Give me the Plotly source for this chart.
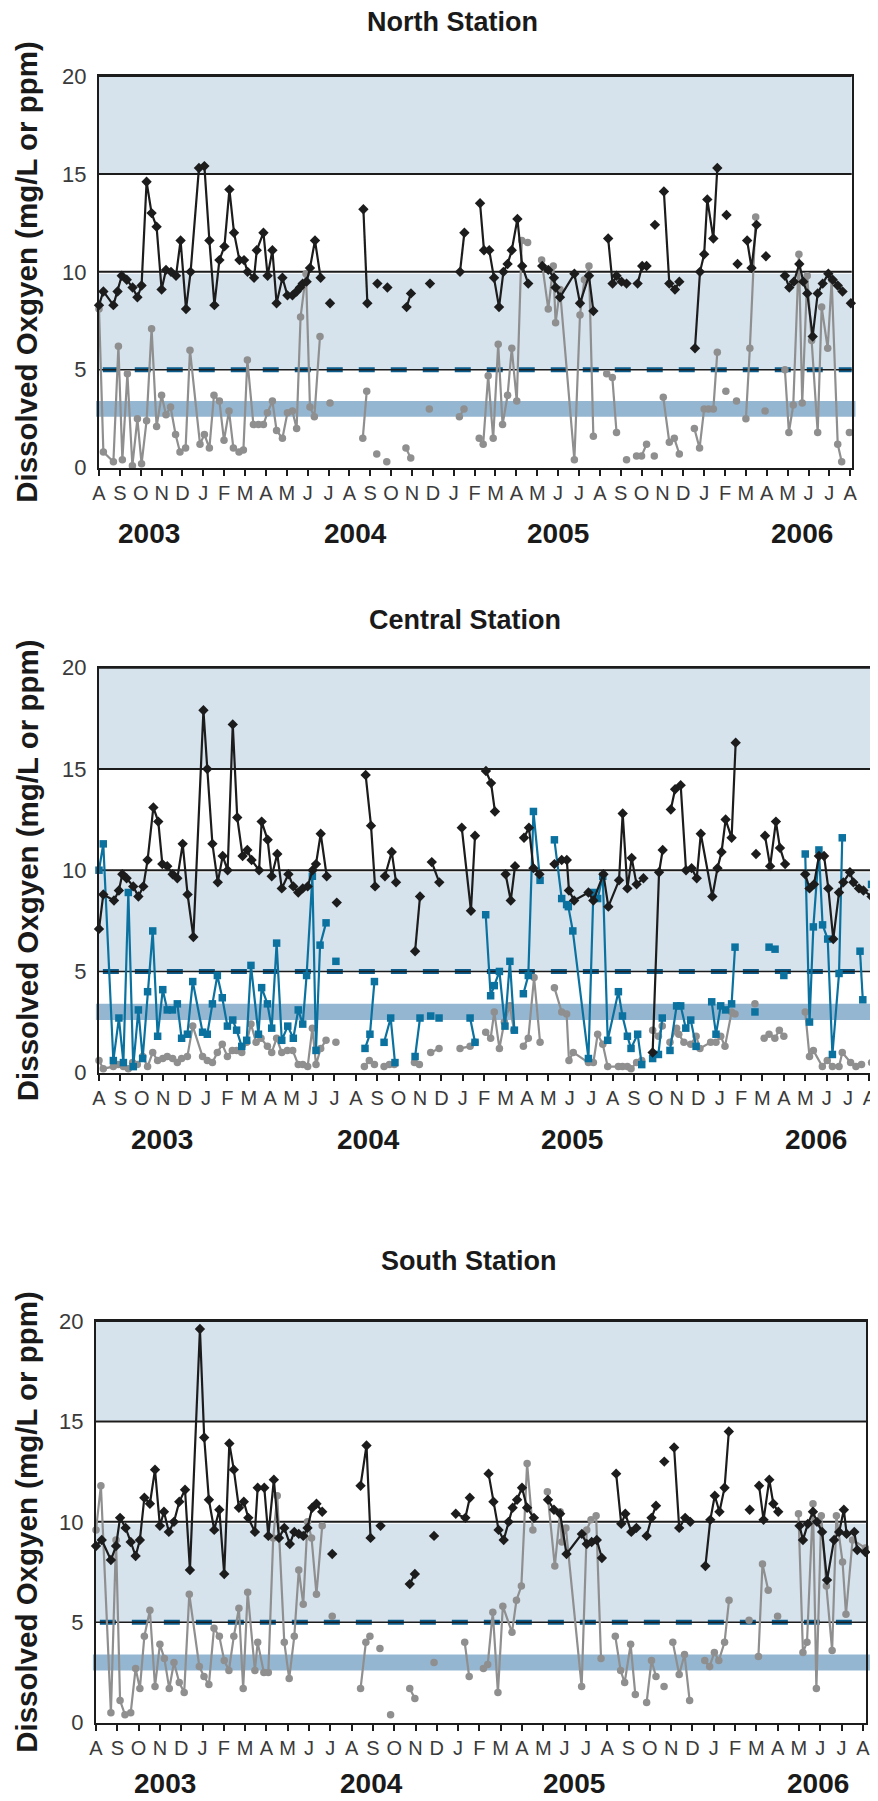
import plotly.graph_objects as go

# x values are month positions on the axis: 0 = Aug 2003, 36 = Aug 2006
# None marks a break in the line (no sampling)
MONTH_LABELS = list("ASONDJFMAMJJ") * 3 + ["A"]
YEARS = ["2003", "2004", "2005", "2006"]
Y_TICKS = [0, 5, 10, 15, 20]

# ---------------- North Station ----------------
north_black_x = [0, 0.21, 0.69, 0.89, 1.09, 1.33, 1.61, 1.84, 2.04, 2.28, 2.52, 2.76, 3.00, 3.21, 3.45, 3.69,
                 3.91, 4.17, 4.39, 4.79, 5.05, 5.29, 5.53, 5.77, 6.01, 6.25, 6.47, 6.73, 6.95, 7.12, 7.43, 7.56,
                 7.88, 8.08, 8.31, 8.51, 8.79, 9.03, 9.27, 9.47, 9.63, 9.76, 9.95, 10.11, 10.35, 10.62, None,
                 11.07, None, 12.67, 12.86, None, 13.34, None, 13.82, None, 14.74, 14.95, None, 15.86, None,
                 17.30, 17.51, None,
                 18.26, 18.45, 18.70, 18.93, 19.17, 19.38, 19.58, 19.78, 20.05, 20.28, 20.57, None,
                 21.24, 21.53, 21.80, 21.88, 22.09, 22.78, 23.05, 23.48, 23.69, None,
                 24.40, 24.61, 24.80, 25.04, 25.28, None, 25.81, 26.03, 26.24, None, 26.64, None,
                 27.07, 27.33, 27.60, 27.81, None, 28.56, 28.80, 29.00, 29.15, 29.44, 29.63, None,
                 30.07, None, 30.60, None, 31.06, 31.27, 31.51, None, 31.96, None,
                 32.87, 33.08, 33.30, 33.56, 33.75, 33.94, 34.20, 34.44, 34.68, 34.95, 35.16, 35.40, 35.63, None,
                 36.03]
north_black_y = [8.3, 9.0, 8.3, 9.0, 9.8, 9.6, 9.2, 8.7, 9.3, 14.6, 13.0, 12.3, 9.1, 10.1, 10.0, 9.8,
                 11.6, 8.1, 10.0, 15.3, 15.4, 11.6, 8.3, 10.6, 11.3, 14.2, 12.0, 10.6, 10.6, 10.0, 9.7, 11.1,
                 12.0, 9.8, 11.1, 8.4, 9.7, 8.8, 8.8, 9.0, 9.2, 9.4, 9.5, 10.2, 11.6, 9.7, None,
                 8.4, None, 13.2, 8.4, None, 9.4, None, 9.2, None, 8.2, 8.9, None, 9.4, None,
                 10.0, 12.0, None,
                 13.5, 11.1, 11.1, 9.7, 8.2, 10.0, 10.4, 11.1, 12.7, 10.3, 9.4, None,
                 10.3, 10.1, 9.7, 9.2, 8.7, 9.9, 8.4, 9.8, 8.0, None,
                 11.7, 9.4, 9.8, 9.5, 9.4, None, 9.4, 10.3, 10.3, None, 12.4, None,
                 14.1, 9.4, 9.1, 9.5, None, 6.1, 10.0, 10.9, 13.7, 11.7, 15.3, None,
                 12.9, None, 10.4, None, 11.6, 10.2, 12.4, None, 10.8, None,
                 9.8, 9.2, 9.5, 10.4, 9.5, 8.9, 6.7, 8.9, 9.4, 9.9, 9.6, 9.3, 9.0, None,
                 8.4]

north_grey_x = [0, 0.21, 0.69, 0.93, 1.12, 1.36, 1.60, 1.84, 2.04, 2.28, 2.52, 2.76, 3.00, 3.21, 3.43, 3.67,
                3.88, 4.15, 4.36, 4.84, 5.05, 5.29, 5.51, 5.77, 5.99, 6.23, 6.44, 6.71, 6.92, 7.11, 7.40, 7.64,
                7.88, 8.07, 8.31, 8.51, 8.79, 9.03, 9.27, 9.47, 9.66, 9.92, 10.11, 10.32, 10.59, None,
                11.07, None, 12.64, 12.83, None, 13.31, None, 13.79, None, 14.71, 14.94, None, 15.83, None,
                17.27, 17.49, None,
                18.22, 18.41, 18.65, 18.89, 19.13, 19.34, 19.58, 19.78, 20.02, 20.26, 20.54, None,
                21.21, 21.53, 21.77, 21.88, 22.09, 22.78, 23.05, 23.26, 23.48, 23.69, None,
                24.33, 24.60, 24.80, None, 25.28, None, 25.76, 26.00, 26.24, None, 26.61, None,
                27.04, 27.33, 27.57, 27.81, None, 28.53, 28.78, 29.00, 29.21, 29.44, 29.63, None,
                30.04, None, 30.55, None, 31.00, 31.19, 31.47, None, 31.92, None,
                32.87, 33.06, 33.27, 33.54, 33.70, 33.94, 34.15, 34.44, 34.63, 34.92, 35.11, 35.40, 35.59, None,
                35.96]
north_grey_y = [8.1, 0.8, 0.3, 6.2, 0.4, 4.8, 0.1, 2.5, 0.2, 2.4, 7.1, 2.1, 3.7, 2.7, 3.1, 1.7,
                0.8, 1.0, 6.0, 1.2, 1.7, 1.0, 3.7, 3.4, 1.4, 2.9, 1.0, 0.8, 0.9, 5.5, 2.2, 2.2,
                2.2, 2.8, 3.4, 1.9, 1.5, 2.8, 2.9, 2.0, 7.7, 9.9, 3.1, 2.6, 6.7, None,
                3.3, None, 1.5, 3.9, None, 0.7, None, 0.3, None, 1.0, 0.5, None, 3.0, None,
                2.6, 3.0, None,
                1.5, 1.2, 4.7, 1.5, 6.3, 2.2, 3.7, 6.1, 3.4, 11.6, 11.5, None,
                10.6, 8.1, 10.3, 7.4, 9.1, 0.4, 7.8, 9.6, 10.3, 1.6, None,
                4.8, 4.6, 1.8, None, 0.4, None, 0.6, 0.6, 1.2, None, 0.6, None,
                3.6, 1.3, 1.5, 0.7, None, 2.0, 1.0, 3.0, 3.0, 3.0, 5.9, None,
                3.9, None, 3.4, None, 2.5, 6.1, 12.8, None, 2.9, None,
                5.0, 1.8, 3.2, 10.9, 3.3, 9.8, 6.5, 1.8, 8.2, 6.1, 9.6, 1.2, 0.3, None,
                1.8]

# ---------------- Central Station ----------------
central_black_x = [0, 0.20, 0.70, 0.93, 1.09, 1.29, 1.60, 1.84, 2.07, 2.27, 2.54, 2.77, 2.96, 3.19, 3.44, 3.66,
                   3.91, 4.14, 4.41, 4.88, 5.06, 5.30, 5.55, 5.78, 6.01, 6.25, 6.46, 6.71, 6.93, 7.13, 7.48, 7.60,
                   7.88, 8.07, 8.33, 8.54, 8.85, 9.08, 9.31, 9.52, 9.75, 9.98, 10.14, 10.36, 10.64, None,
                   11.11, None, 12.46, 12.71, 12.90, None, 13.36, 13.68, 13.88, None, 14.77, 15.00, None,
                   15.55, 15.90, None, 16.95, 17.38, 17.57, None,
                   18.08, 18.32, 18.50, None, 19.00, 19.24, 19.44, None, 19.86, 20.09, 20.30, 20.58, None,
                   21.28, 21.62, 21.86, 21.96, 22.20, 22.87, 23.10, 23.57, 23.80, 24.30, 24.47, 24.69, 24.89,
                   25.12, 25.44, None, 25.87, 26.17, 26.34, None,
                   26.72, 26.92, 27.18, 27.43, 27.69, 27.93, 28.12, 28.66, 28.90, 29.09, 29.28, 29.56, 29.75, None,
                   30.70, None, 31.12, 31.36, 31.63, 31.82, 32.06, None,
                   33.00, 33.20, 33.41, 33.64, 33.88, 34.08, 34.31, 34.58, 34.78, 35.09, 35.25, 35.51, 35.72, 36.10]
central_black_y = [7.1, 8.8, 8.5, 9.0, 9.8, 9.6, 9.2, 8.7, 9.2, 10.5, 13.1, 12.4, 10.3, 10.2, 9.8, 9.6,
                   11.3, 8.8, 6.7, 17.9, 15.0, 11.3, 9.4, 10.7, 10.0, 17.2, 12.6, 10.7, 11.0, 10.5, 10.0, 12.4,
                   11.5, 9.7, 10.8, 9.1, 9.8, 9.2, 8.9, 9.1, 9.2, 10.0, 10.3, 11.8, 9.7, None,
                   8.4, None, 14.7, 12.2, 9.2, None, 9.7, 10.9, 9.4, None, 6.0, 8.7, None,
                   10.4, 9.4, None, 12.1, 8.0, 11.7, None,
                   14.9, 14.3, 12.9, None, 9.8, 8.5, 10.2, None, 11.6, 12.1, 10.1, 9.8, None,
                   10.3, 10.5, 10.5, 9.0, 8.5, 8.9, 8.5, 9.8, 8.2, 9.5, 12.8, 9.1, 10.6,
                   9.3, 9.6, None, 1.0, 9.9, 11.0, None,
                   13.0, 14.0, 14.2, 10.0, 10.1, 9.6, 11.8, 8.7, 10.1, 10.9, 12.5, 11.6, 16.3, None,
                   10.8, None, 11.7, 10.2, 12.4, 11.1, 10.3, None,
                   9.8, 9.1, 9.3, 10.7, 10.7, 9.1, 6.6, 8.9, 9.4, 9.9, 9.4, 9.1, 9.0, 8.7]

central_teal_x = [0, 0.20, 0.67, 0.93, 1.14, 1.37, 1.60, 1.84, 2.04, 2.27, 2.51, 2.74, 2.98, 3.19, 3.43, 3.66,
                  3.86, 4.13, 4.38, 4.84, 5.06, 5.30, 5.53, 5.76, 6.00, 6.25, 6.43, 6.67, 6.90, 7.10, 7.45, 7.60,
                  7.87, 8.07, 8.30, 8.54, 8.82, 9.08, 9.31, 9.52, 9.70, 9.97, 10.14, 10.33, 10.61, None,
                  11.07, None, 12.43, 12.66, 12.87, None, 13.32, 13.63, 13.83, None, 14.77, 15.00, None,
                  15.50, None, 15.89, None, 17.34, 17.57, None,
                  18.07, 18.30, 18.47, 18.71, 18.97, 19.20, 19.41, None, 19.83, 20.06, 20.30, 20.61, None,
                  21.28, 21.62, 21.85, 21.93, 22.14, 22.87, 23.10, 23.30, 23.54, 23.77, 24.27, 24.46, 24.69,
                  24.86, 25.17, 25.36, None, 25.87, 26.14, 26.32, None,
                  26.68, 26.99, 27.18, 27.42, 27.65, 27.90, None, 28.63, 28.83, 29.05, 29.28, 29.56, 29.72, None,
                  30.65, None, 31.31, 31.59, None, 32.00, None,
                  33.00, 33.20, 33.38, 33.64, 33.81, 34.05, 34.27, 34.58, 34.73, None, 35.56, 35.69, None, 36.10]
central_teal_y = [10.0, 11.3, 0.6, 2.7, 0.5, 8.9, 0.3, 3.1, 0.7, 4.0, 7.0, 1.8, 4.1, 3.1, 3.1, 3.4,
                  1.7, 1.9, 4.5, 2.0, 1.9, 3.4, 4.8, 3.7, 2.3, 2.6, 2.1, 1.3, 1.6, 5.3, 1.9, 4.2,
                  3.4, 2.2, 6.4, 1.6, 2.3, 1.7, 3.1, 2.4, 4.8, 9.7, 1.1, 6.3, 7.4, None,
                  5.5, None, 1.2, 1.9, 4.5, None, 1.5, 2.7, 0.5, None, 0.8, 2.7, None,
                  2.8, None, 2.7, None, 2.7, 1.5, None,
                  7.8, 3.8, 4.3, 5.0, 2.3, 5.5, 2.1, None, 3.9, 4.8, 12.9, 9.5, None,
                  11.5, 8.6, 8.3, 8.2, 7.0, 0.7, 8.9, 8.6, 9.7, 1.6, 4.0, 2.8, 1.8,
                  1.2, 1.9, 0.4, None, 0.7, 0.9, 2.7, None,
                  1.1, 3.3, 3.3, 2.2, 2.6, 1.3, None, 3.5, 1.9, 3.3, 3.1, 3.4, 6.2, None,
                  3.0, None, 6.2, 6.1, None, 4.8, None,
                  10.8, 2.5, 7.2, 11.0, 7.3, 6.6, 0.9, 4.9, 11.6, None, 6.0, 3.6, None, 9.3]

central_grey_x = [0, 0.20, 0.67, 0.90, 1.14, 1.37, 1.57, 1.79, 2.04, 2.27, 2.51, 2.74, 2.98, 3.19, 3.44, 3.66,
                  3.86, 4.13, 4.38, 4.84, 5.06, 5.30, 5.53, 5.76, 6.00, 6.23, 6.43, 6.67, 6.90, 7.10, 7.34, 7.57,
                  7.87, 8.07, 8.30, 8.54, 8.80, 9.05, 9.31, 9.52, 9.75, 9.97, 10.14, 10.36, 10.61, None,
                  11.07, None, 12.40, 12.63, 12.87, None, 13.32, 13.57, 13.80, None, 14.74, 14.97, None,
                  15.50, 15.89, None, 16.87, 17.34, 17.57, None,
                  18.07, 18.30, 18.47, 18.71, 18.94, 19.20, 19.39, None, 19.83, 20.06, 20.33, 20.61, None,
                  21.28, 21.62, 21.85, 21.96, 22.16, 22.87, 23.10, 23.30, 23.54, 23.77, 24.27, 24.46, 24.69,
                  24.86, 25.12, 25.36, None, 25.87, 26.14, 26.32, None,
                  26.68, 26.99, 27.09, 27.33, 27.65, 27.90, 28.08, 28.58, 28.83, 29.05, 29.25, 29.56, 29.72, None,
                  30.65, None, 31.08, 31.31, 31.58, 31.79, 32.00, None,
                  33.00, 33.20, 33.38, 33.80, 34.03, 34.27, 34.58, 34.73, 35.12, 35.37, 35.63, None, 36.10]
central_grey_y = [0.6, 0.2, 0.3, 0.4, 0.3, 0.2, 0.5, 0.4, 0.8, 0.3, 1.0, 0.6, 0.7, 0.8, 0.7, 0.5,
                  0.7, 0.8, 2.3, 0.8, 0.6, 0.5, 1.0, 1.4, 0.8, 1.1, 1.1, 1.0, 1.5, 2.4, 1.5, 1.7,
                  1.3, 1.0, 1.7, 1.0, 1.1, 1.1, 0.4, 0.4, 0.3, 2.2, 0.4, 1.2, 1.6, None,
                  1.5, None, 0.3, 0.6, 0.4, None, 0.3, 0.4, 0.4, None, 0.5, 0.4, None,
                  1.0, 1.2, None, 1.2, 1.3, 1.5, None,
                  2.0, 1.7, 3.0, 1.2, 2.5, 3.3, 2.1, None, 1.3, 1.7, 4.7, 1.5, None,
                  4.2, 3.0, 2.9, 0.6, 1.0, 0.5, 0.5, 1.9, 1.4, 0.3, 0.3, 0.3, 0.3,
                  0.2, 0.5, 0.6, None, 2.1, 1.8, 2.3, None,
                  1.5, 2.2, 1.9, 1.5, 1.4, 1.8, 1.2, 1.5, 1.5, 1.8, 1.3, 3.0, 2.9, None,
                  3.4, None, 1.7, 1.9, 1.7, 2.1, 1.8, None,
                  3.0, 0.8, 1.1, 0.3, 0.6, 0.3, 0.3, 1.0, 0.5, 0.3, 0.4, None, 0.5]

# ---------------- South Station ----------------
south_black_x = [0, 0.27, 0.70, 0.94, 1.13, 1.39, 1.63, 1.86, 2.06, 2.27, 2.53, 2.77, 3.00, 3.19, 3.42, 3.66,
                 3.91, 4.18, 4.41, 4.88, 5.08, 5.30, 5.55, 5.79, 6.02, 6.26, 6.47, 6.71, 6.94, 7.15, 7.46, 7.59,
                 7.90, 8.09, 8.35, 8.59, 8.84, 9.10, 9.31, 9.52, 9.73, 9.93, 10.15, 10.35, 10.62, None,
                 11.09, None, 12.42, 12.70, 12.89, None, 13.36, None, 14.73, 14.97, None, 15.87, None,
                 16.89, 17.34, 17.55, None,
                 18.43, 18.66, 18.90, 19.14, 19.37, 19.56, 19.77, 20.00, 20.24, 20.56, None,
                 21.22, 21.50, 21.79, 22.09, 22.81, 23.04, 23.27, 23.51, 23.75, None,
                 24.42, 24.66, 24.85, 25.13, 25.37, None, 25.85, 26.08, 26.29, None, 26.68, None,
                 27.14, 27.38, 27.66, 27.90, None, 28.61, 28.84, 29.05, 29.27, 29.51, 29.71, None,
                 30.69, None, 31.13, 31.34, 31.61, 31.80, 32.03, None,
                 33.03, 33.19, 33.42, 33.66, 33.85, 34.09, 34.32, 34.65, 34.89, 35.11, 35.24, 35.60, 35.74, 36.12]
south_black_y = [8.8, 9.1, 8.1, 8.8, 10.2, 9.7, 9.0, 8.3, 9.1, 11.2, 10.9, 12.6, 9.8, 10.5, 9.5, 10.0,
                 11.0, 11.6, 7.6, 19.6, 14.2, 11.1, 9.6, 10.6, 7.4, 13.9, 12.6, 10.7, 11.0, 10.2, 9.5, 11.7,
                 11.7, 9.3, 12.1, 9.2, 9.7, 8.9, 9.5, 9.4, 9.3, 9.7, 10.7, 10.9, 10.5, None,
                 8.4, None, 11.8, 13.8, 9.2, None, 9.8, None, 6.9, 7.4, None, 9.3, None,
                 10.4, 10.2, 11.2, None,
                 12.4, 11.0, 9.6, 9.1, 10.0, 10.7, 11.1, 11.7, 10.7, 10.2, None,
                 11.1, 10.6, 10.4, 8.4, 9.4, 8.9, 9.0, 9.1, 8.2, None,
                 12.4, 9.9, 10.4, 9.5, 9.7, None, 9.3, 10.2, 10.8, None, 13.0, None,
                 13.7, 9.7, 10.2, 10.0, None, 7.8, 10.1, 11.3, 10.5, 11.7, 14.5, None,
                 10.6, None, 11.8, 10.1, 12.1, 10.9, 10.5, None,
                 9.8, 9.1, 9.9, 10.5, 10.0, 9.5, 7.1, 9.1, 9.5, 10.6, 9.4, 9.5, 8.6, 8.5]

south_grey_x = [0, 0.23, 0.70, 0.94, 1.13, 1.36, 1.63, 1.86, 2.06, 2.27, 2.53, 2.77, 3.00, 3.21, 3.44, 3.66,
                3.91, 4.14, 4.38, 4.85, 5.07, 5.30, 5.54, 5.79, 6.02, 6.24, 6.47, 6.71, 6.91, 7.12, 7.46, 7.59,
                7.88, 8.09, 8.32, 8.51, 8.84, 9.07, 9.31, 9.52, 9.73, 9.93, 10.12, 10.35, 10.62, None,
                11.09, None, 12.42, 12.67, 12.86, None, 13.33, None, 13.83, None, 14.73, 14.97, None,
                15.87, None, 17.31, 17.52, None,
                18.19, 18.39, 18.63, 18.87, 19.10, 19.53, 19.74, 19.97, 20.24, 20.51, None,
                21.19, 21.54, 21.79, 21.87, 22.06, 22.80, 23.04, 23.24, 23.48, 23.71, None,
                24.38, 24.63, 24.82, 25.10, 25.32, None, 25.85, 26.08, 26.29, None, 26.67, None,
                27.08, 27.38, 27.63, 27.87, None, 28.58, 28.81, 29.03, 29.24, 29.51, 29.72, None,
                30.66, None, 31.10, 31.29, 31.56, None, 32.00, None,
                32.98, 33.19, 33.38, 33.66, 33.82, 34.05, 34.29, 34.56, 34.76, 35.05, 35.21, 35.52, 36.12]
south_grey_y = [9.6, 11.8, 0.5, 9.1, 1.1, 0.4, 0.5, 2.7, 1.7, 4.3, 5.6, 1.8, 3.9, 3.2, 1.7, 3.0,
                2.0, 1.5, 6.4, 2.8, 2.3, 1.9, 4.7, 4.3, 3.1, 2.6, 4.3, 5.7, 1.7, 6.5, 2.6, 4.0,
                2.5, 2.5, 9.2, 11.3, 4.0, 2.2, 4.3, 7.6, 5.9, 10.0, 9.2, 6.4, 9.8, None,
                5.3, None, 1.7, 4.0, 4.3, None, 3.7, None, 0.4, None, 1.7, 1.2, None,
                3.0, None, 4.0, 2.3, None,
                2.7, 2.9, 5.5, 1.5, 5.8, 4.5, 6.1, 6.8, 12.9, 9.6, None,
                11.5, 7.8, 10.5, 9.0, 9.7, 1.8, 9.6, 10.1, 10.3, 3.2, None,
                4.3, 2.6, 2.0, 3.9, 1.4, None, 1.0, 3.1, 2.3, None, 1.8, None,
                4.0, 2.4, 3.4, 1.1, None, 3.1, 2.8, 3.5, 3.1, 4.0, 6.1, None,
                5.1, None, 3.3, 7.9, 6.6, None, 5.3, None,
                10.4, 3.5, 4.0, 10.9, 1.7, 10.3, 6.8, 3.6, 10.3, 8.0, 5.4, 9.1, 8.7]

PAGE_W, PAGE_H = 878, 1801
BODY = 8  # default page margin around the figure
W, H = PAGE_W - BODY, PAGE_H - BODY
BLACK = "#1c1c1c"
GREY = "#8f8f8f"
TEAL = "#0b72a0"
LIGHT = "#d6e3ed"
BAND = "#94b6d1"
DASH = "#0c5c8c"
TICK_FONT = "Liberation Sans Narrow, Arial Narrow, Liberation Sans, Arial, sans-serif"
BOLD_FONT = "Liberation Sans, Arial, Helvetica, sans-serif"


def px_x(v):
    return (v - BODY) / W


def px_y(v):
    return 1 - (v - BODY) / H


# page-pixel layout of the three panels
panels = [
    dict(title="North Station", title_x=452, title_y=22, left=99, right=851.7, top=76, bottom=467.7,
         xmax=36.07, years_x=[149, 355, 558, 802], years_y=533,
         series=[(north_grey_x, north_grey_y, GREY, "circle", 7.5),
                 (north_black_x, north_black_y, BLACK, "diamond", 8)]),
    dict(title="Central Station", title_x=465, title_y=620, left=99, right=872, top=667.7, bottom=1072.7,
         xmax=36.12, years_x=[162, 368, 572, 816], years_y=1139,
         series=[(central_grey_x, central_grey_y, GREY, "circle", 7.5),
                 (central_teal_x, central_teal_y, TEAL, "square", 7.5),
                 (central_black_x, central_black_y, BLACK, "diamond", 8)]),
    dict(title="South Station", title_x=468, title_y=1261, left=96, right=866, top=1321, bottom=1722.7,
         xmax=36.15, years_x=[165, 371, 574, 818], years_y=1783,
         series=[(south_grey_x, south_grey_y, GREY, "circle", 7.5),
                 (south_black_x, south_black_y, BLACK, "diamond", 8)]),
]

fig = go.Figure()
shapes = []
annotations = []

for i, p in enumerate(panels):
    s = "" if i == 0 else str(i + 1)
    xa, ya = "x" + s, "y" + s

    for xs, ys, color, symbol, size in p["series"]:
        assert len(xs) == len(ys), (p["title"], color, len(xs), len(ys))
        fig.add_trace(go.Scatter(
            x=xs, y=ys, xaxis=xa, yaxis=ya, mode="lines+markers",
            line=dict(color=color, width=2.2),
            marker=dict(symbol=symbol, size=size, color=color),
            connectgaps=False, cliponaxis=False, hoverinfo="skip", showlegend=False,
        ))

    fig.layout["xaxis" + s] = dict(
        domain=[px_x(p["left"]), px_x(p["right"])], range=[0, p["xmax"]], anchor=ya,
        tickmode="array", tickvals=list(range(37)), ticktext=MONTH_LABELS,
        ticks="outside", ticklen=6, tickwidth=2, tickcolor=BLACK,
        showline=True, linecolor=BLACK, linewidth=2, mirror=True,
        showgrid=False, zeroline=False, fixedrange=True,
        tickfont=dict(family=TICK_FONT, size=20, color="#3a3a3a"),
    )
    fig.layout["yaxis" + s] = dict(
        domain=[px_y(p["bottom"]), px_y(p["top"])], range=[0, 20], anchor=xa,
        tickmode="array", tickvals=Y_TICKS, ticks="", ticklabelstandoff=6,
        showline=True, linecolor=BLACK, linewidth=2, mirror=True,
        showgrid=False, zeroline=False, fixedrange=True,
        tickfont=dict(family=TICK_FONT, size=22, color="#3a3a3a"),
    )

    dom = xa + " domain"
    # shaded ranges
    shapes.append(dict(type="rect", xref=dom, yref=ya, x0=0, x1=1, y0=15.05, y1=20,
                       fillcolor=LIGHT, line_width=0, layer="below"))
    shapes.append(dict(type="rect", xref=dom, yref=ya, x0=0, x1=1, y0=5, y1=9.9,
                       fillcolor=LIGHT, line_width=0, layer="below"))
    shapes.append(dict(type="rect", xref=dom, yref=ya, x0=-0.004, x1=1.005, y0=2.6, y1=3.4,
                       fillcolor=BAND, line_width=0, layer="below"))
    for v in (10, 15, 20):
        shapes.append(dict(type="line", xref=dom, yref=ya, x0=0, x1=1, y0=v, y1=v,
                           line=dict(color=BLACK, width=2), layer="below"))
    # 5 mg/L reference: blue dashes over a black rule
    shapes.append(dict(type="line", xref=dom, yref=ya, x0=0.005, x1=1, y0=5, y1=5,
                       line=dict(color=DASH, width=5, dash="16px,16px"), layer="below"))
    shapes.append(dict(type="line", xref=dom, yref=ya, x0=0, x1=1, y0=5, y1=5,
                       line=dict(color=BLACK, width=1.5), layer="below"))

    annotations.append(dict(text="<b>" + p["title"] + "</b>", xref="paper", yref="paper",
                            x=px_x(p["title_x"]), y=px_y(p["title_y"]), showarrow=False,
                            xanchor="center", yanchor="middle",
                            font=dict(family=BOLD_FONT, size=27, color="#1a1a1a")))
    annotations.append(dict(text="<b>Dissolved Oxgyen (mg/L or ppm)</b>", xref="paper", yref="paper",
                            x=px_x(27), y=px_y((p["top"] + p["bottom"]) / 2), textangle=-90,
                            showarrow=False, xanchor="center", yanchor="middle",
                            font=dict(family=BOLD_FONT, size=29.5, color="#1a1a1a")))
    for yr, px in zip(YEARS, p["years_x"]):
        annotations.append(dict(text="<b>" + yr + "</b>", xref="paper", yref="paper",
                                x=px_x(px), y=px_y(p["years_y"]), showarrow=False,
                                xanchor="center", yanchor="middle", borderpad=0,
                                font=dict(family=BOLD_FONT, size=28, color="#1a1a1a")))

fig.update_layout(
    width=W, height=H, margin=dict(l=0, r=0, t=0, b=0, autoexpand=False),
    paper_bgcolor="white", plot_bgcolor="white",
    shapes=shapes, annotations=annotations, showlegend=False,
)

fig.write_html("out.html")
